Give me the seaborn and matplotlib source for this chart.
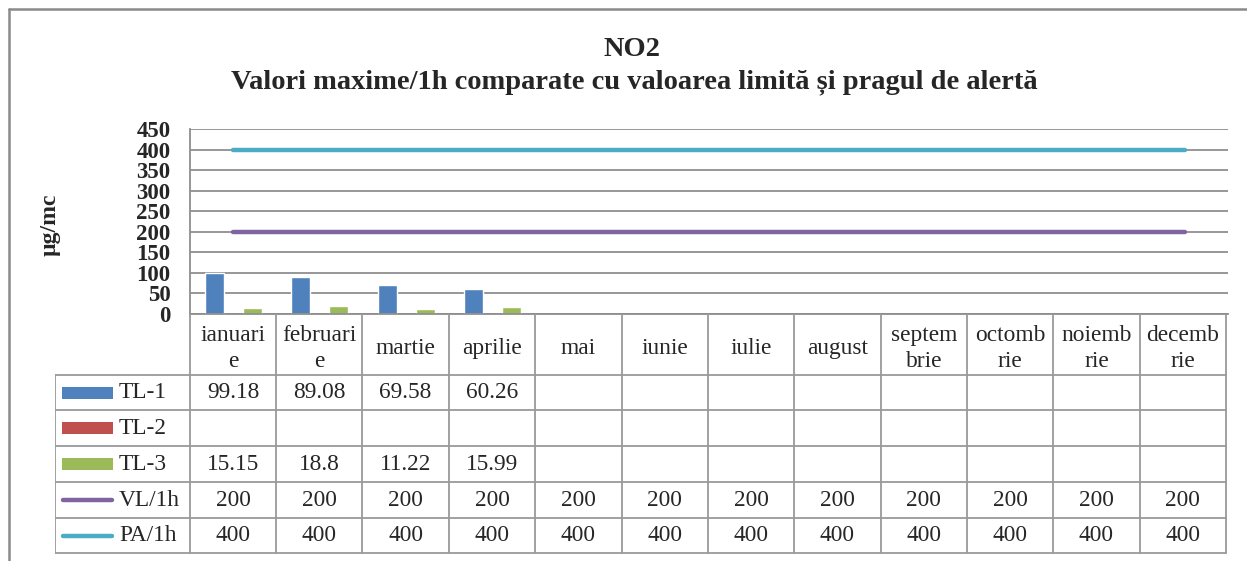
import numpy as np
import pandas as pd
import matplotlib
matplotlib.use("Agg")
import matplotlib.pyplot as plt
from matplotlib.patches import Rectangle
from matplotlib.lines import Line2D
import seaborn as sns

# ---------------- data ----------------
months = ["ianuarie", "februarie", "martie", "aprilie", "mai", "iunie",
          "iulie", "august", "septembrie", "octombrie", "noiembrie", "decembrie"]
month_labels = ["ianuari\ne", "februari\ne", "martie", "aprilie", "mai", "iunie",
                "iulie", "august", "septem\nbrie", "octomb\nrie", "noiemb\nrie", "decemb\nrie"]
tl1 = [99.18, 89.08, 69.58, 60.26, None, None, None, None, None, None, None, None]
tl2 = [None] * 12
tl3 = [15.15, 18.8, 11.22, 15.99, None, None, None, None, None, None, None, None]
vl_1h = [200] * 12
pa_1h = [400] * 12
bar_series = ["TL-1", "TL-2", "TL-3"]
line_series = ["VL/1h", "PA/1h"]
title_lines = ["NO2", "Valori maxime/1h comparate cu valoarea limită și pragul de alertă"]
ylabel = "µg/mc"
yticks = [0, 50, 100, 150, 200, 250, 300, 350, 400, 450]

colors = {"TL-1": "#4F81BD", "TL-2": "#C0504D", "TL-3": "#9BBB59",
          "VL/1h": "#8064A2", "PA/1h": "#4BACC6"}

rows = []
for name, vals in zip(bar_series, [tl1, tl2, tl3]):
    for m, v in zip(months, vals):
        if v is not None:
            rows.append({"luna": m, "serie": name, "valoare": v})
df = pd.DataFrame(rows)

# ---------------- layout ----------------
W, H = 1247, 561
serif = ["Liberation Serif", "DejaVu Serif"]
sns.set_style("white")
plt.rcParams["font.family"] = serif

fig = plt.figure(figsize=(W / 100, H / 100), dpi=100)
fig.patch.set_facecolor("white")

def rect(l, t, r, b):
    return [l / W, 1 - b / H, (r - l) / W, (b - t) / H]

grid_c = "#8f8f8f"
ax = fig.add_axes(rect(190, 129, 1228, 314))
sns.barplot(data=df, x="luna", y="valoare", hue="serie", order=months,
            hue_order=bar_series, palette=colors, width=0.66, saturation=1,
            legend=False, ax=ax)
xpos = np.arange(len(months))
for name, vals in zip(line_series, [vl_1h, pa_1h]):
    sns.lineplot(x=xpos, y=vals, color=colors[name], linewidth=3.2, ax=ax)
    ax.lines[-1].set_solid_capstyle("round")

ax.set_xlim(-0.5, len(months) - 0.5)
ax.set_ylim(0, 450)
ax.set_yticks(yticks)
ax.set_yticklabels([str(t) for t in yticks], fontsize=16.5, fontweight="bold")
ax.set_xticks([])
ax.set_xlabel("")
ax.set_ylabel("")
ax.yaxis.grid(True, color=grid_c, linewidth=1.3)
ax.set_axisbelow(True)
ax.tick_params(axis="y", length=0, pad=14)
for s in ["top", "right"]:
    ax.spines[s].set_visible(False)
for s in ["left", "bottom"]:
    ax.spines[s].set_color(grid_c)
    ax.spines[s].set_linewidth(1.3)

fig.text(50 / W, 1 - 225 / H, ylabel, rotation=90, ha="center", va="center",
         fontsize=17, fontweight="bold")
fig.text(632 / W, 1 - 49 / H, title_lines[0], ha="center", va="center",
         fontsize=20.5, fontweight="bold")
fig.text(634 / W, 1 - 82 / H, title_lines[1], ha="center", va="center",
         fontsize=20.5, fontweight="bold")

# ---------------- data table ----------------
unit = 1038 / 12.0
left_px = 55
x0 = -0.5 - (190 - left_px) / unit
tax = fig.add_axes(rect(left_px, 314, 1228, 555))
tax.set_xlim(x0, 11.5 + 2 / unit)
tax.set_ylim(555, 314)
tax.axis("off")

row_edges = [314, 375, 410, 446, 482, 518, 553]
tc = "#9a9a9a"
lw = 1.3
for k in range(13):
    tax.plot([-0.5 + k, -0.5 + k], [314, 553], color=tc, lw=lw)
tax.plot([x0, x0], [375, 553], color=tc, lw=lw)
for y in row_edges[1:]:
    tax.plot([x0, 11.5], [y, y], color=tc, lw=lw)

fs = 16.8
hc = (row_edges[0] + row_edges[1]) / 2
for i, lab in enumerate(month_labels):
    tax.text(i, hc + 4, lab, ha="center", va="center", fontsize=fs, linespacing=1.3)

all_series = bar_series + line_series
all_vals = [tl1, tl2, tl3, vl_1h, pa_1h]
px2x = lambda p: x0 + (p - left_px) / unit
for r, (name, vals) in enumerate(zip(all_series, all_vals)):
    yc = (row_edges[r + 1] + row_edges[r + 2]) / 2
    if name in bar_series:
        tax.add_patch(Rectangle((px2x(62), yc - 6), 51 / unit, 12,
                                color=colors[name], lw=0))
    else:
        tax.add_line(Line2D([px2x(63), px2x(112)], [yc, yc], color=colors[name],
                            lw=3.2, solid_capstyle="round"))
    tax.text(px2x(119), yc, name, ha="left", va="center", fontsize=fs)
    for i, v in enumerate(vals):
        if v is not None:
            tax.text(i, yc, f"{v:g}", ha="center", va="center", fontsize=fs)

# outer chart frame (top and left edges visible)
fc = "#8a8a8a"
fig.add_artist(Line2D([9 / W, 1.0], [1 - 9 / H, 1 - 9 / H], transform=fig.transFigure,
                      color=fc, lw=1.8))
fig.add_artist(Line2D([9 / W, 9 / W], [0, 1 - 9 / H], transform=fig.transFigure,
                      color=fc, lw=1.8))

fig.savefig("out.png", dpi=100, facecolor="white")
